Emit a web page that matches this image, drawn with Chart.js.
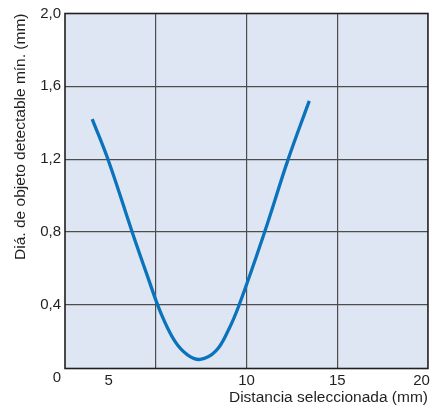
<!DOCTYPE html>
<html>
<head>
<meta charset="utf-8">
<script src="https://cdn.jsdelivr.net/npm/chart.js@4/dist/chart.umd.min.js"></script>
<style>
  html, body { margin: 0; padding: 0; background: #ffffff; }
  #wrap { width: 433px; height: 407px; }
</style>
</head>
<body>
<div id="wrap"><canvas id="c" width="433" height="407"></canvas></div>
<script>
// Selected sensing distance (mm) vs. minimum detectable object diameter (mm)
const distance = [1.5, 2.4, 3.7, 4.5, 5.3, 6.05, 6.75, 7.45, 8.3, 9.0, 9.6, 11.0, 12.3, 13.46];
const minDiameter = [1.42, 1.19, 0.80, 0.57, 0.35, 0.20, 0.125, 0.10, 0.145, 0.26, 0.40, 0.80, 1.20, 1.52];

// Axis ticks and their printed labels
const xTickValues = [2.4, 5, 10, 15, 19.65];
const xTickLabels = ['5', '', '10', '15', '20'];
const xGridValues = [5, 10, 15];
const yTickValues = [0, 0.4, 0.8, 1.2, 1.6, 2.0];
const yTickLabels = ['0', '0,4', '0,8', '1,2', '1,6', '2,0'];

const points = distance.map((d, i) => ({ x: d, y: minDiameter[i] }));

const FONT = 'Liberation Sans, Arial, Helvetica, sans-serif';
const TEXT = '#231f20';
const GRID = '#4d4d4f';

const plotFrame = {
  id: 'plotFrame',
  beforeDraw(chart) {
    const { ctx, chartArea: a } = chart;
    ctx.save();
    ctx.fillStyle = '#dfe6f3';
    ctx.fillRect(a.left, a.top, a.right - a.left, a.bottom - a.top);
    ctx.restore();
  },
  beforeDatasetsDraw(chart) {
    const { ctx, chartArea: a } = chart;
    ctx.save();
    ctx.strokeStyle = '#231f20';
    ctx.lineWidth = 1.6;
    ctx.strokeRect(a.left, a.top, a.right - a.left, a.bottom - a.top);
    ctx.restore();
  }
};

new Chart(document.getElementById('c'), {
  type: 'line',
  data: {
    datasets: [{
      data: points,
      borderColor: '#0a73bb',
      borderWidth: 3.3,
      pointRadius: 0,
      fill: false,
      tension: 0.4,
      borderCapStyle: 'butt'
    }]
  },
  options: {
    responsive: false,
    devicePixelRatio: 1,
    animation: false,
    layout: { padding: { top: 13.5, right: 3, left: 0, bottom: 0 } },
    plugins: { legend: { display: false }, tooltip: { enabled: false } },
    scales: {
      x: {
        type: 'linear',
        min: 0,
        max: 20,
        afterBuildTicks(scale) { scale.ticks = xTickValues.map(v => ({ value: v })); },
        afterFit(scale) { scale.height = 38.5; },
        border: { display: false },
        grid: {
          drawTicks: false,
          lineWidth: 1.2,
          color: ctx => (ctx.tick && xGridValues.includes(ctx.tick.value)) ? GRID : 'rgba(0,0,0,0)'
        },
        ticks: {
          autoSkip: false,
          maxRotation: 0,
          padding: 3,
          color: TEXT,
          font: { family: FONT, size: 15 },
          callback: (v, i) => xTickLabels[i]
        },
        title: {
          display: true,
          text: 'Distancia seleccionada (mm)',
          align: 'end',
          color: TEXT,
          font: { family: FONT, size: 15.5 },
          padding: { top: 0, bottom: 0 }
        }
      },
      y: {
        type: 'linear',
        min: 0.05,
        max: 2.0,
        afterBuildTicks(scale) { scale.ticks = yTickValues.map(v => ({ value: v })); },
        afterFit(scale) { scale.width = 65; },
        border: { display: false },
        grid: {
          drawTicks: false,
          lineWidth: 1.2,
          color: ctx => (ctx.tick && ctx.tick.value > 0 && ctx.tick.value < 2) ? GRID : 'rgba(0,0,0,0)'
        },
        ticks: {
          autoSkip: false,
          padding: 4,
          color: TEXT,
          font: { family: FONT, size: 15 },
          callback: (v, i) => yTickLabels[i]
        },
        title: {
          display: true,
          text: 'Diá. de objeto detectable mín. (mm)',
          align: 'end',
          color: TEXT,
          font: { family: FONT, size: 15.5 },
          padding: { top: 11, bottom: 0 }
        }
      }
    }
  },
  plugins: [plotFrame]
});
</script>
</body>
</html>
